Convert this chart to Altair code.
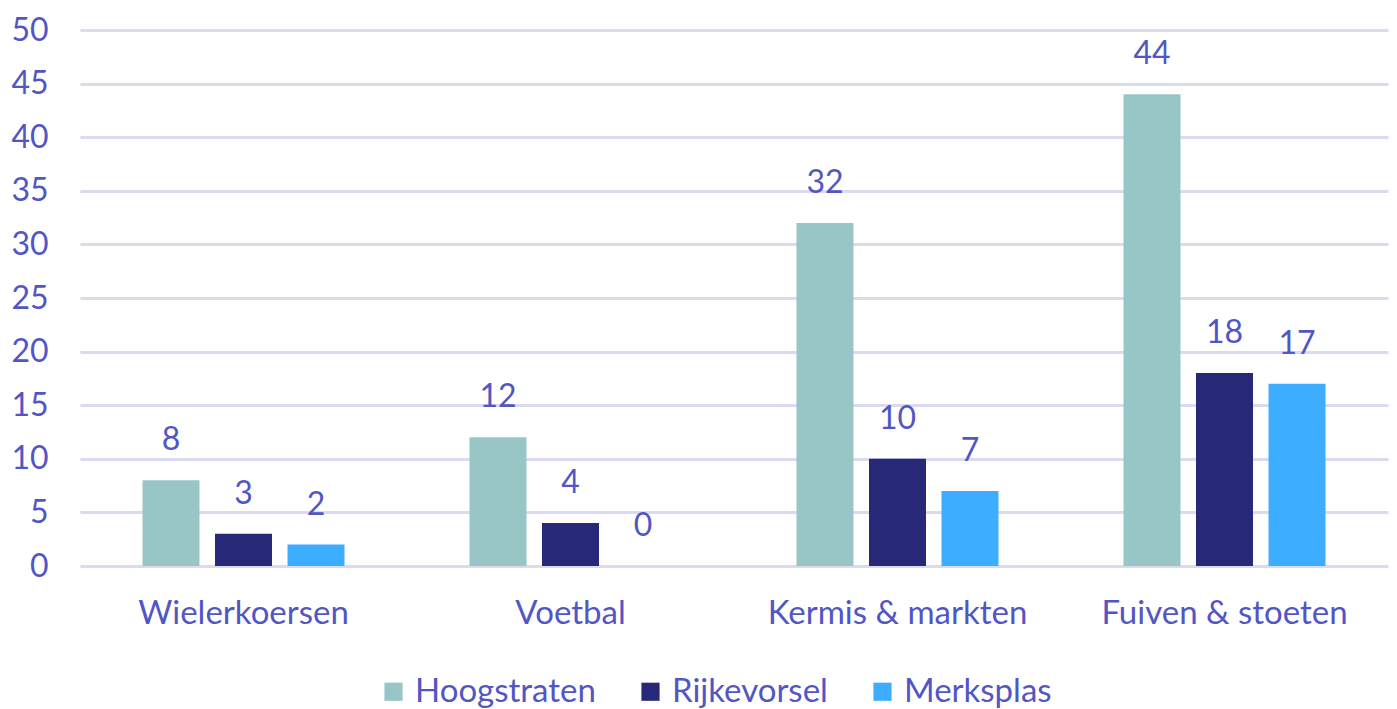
import altair as alt
import pandas as pd

categories = ["Wielerkoersen", "Voetbal", "Kermis & markten", "Fuiven & stoeten"]
series = ["Hoogstraten", "Rijkevorsel", "Merksplas"]
hoogstraten = [8, 12, 32, 44]
rijkevorsel = [3, 4, 10, 18]
merksplas = [2, 0, 7, 17]
colors = ["#98C6C6", "#272978", "#3DAEFF"]

rows = []
for i, c in enumerate(categories):
    for s, vals in zip(series, [hoogstraten, rijkevorsel, merksplas]):
        rows.append({"cat": c, "series": s, "value": vals[i]})
df = pd.DataFrame(rows)

FONT = "Lato"
FS = 32
FSW = 33
TXT = "#5256C4"
GRID = "#DADAF0"

x = alt.X("cat:N", sort=categories, title=None,
          scale=alt.Scale(paddingInner=0, paddingOuter=0),
          axis=alt.Axis(labelAngle=0, labelFont=FONT, labelFontSize=FSW, labelColor=TXT,
                        ticks=False, domain=False, labelPadding=31, labelLimit=0))
xo = alt.XOffset("series:N", sort=series,
                 scale=alt.Scale(paddingInner=0.214, paddingOuter=0.862))
y = alt.Y("value:Q", title=None,
          scale=alt.Scale(domain=[0, 50]),
          axis=alt.Axis(values=list(range(0, 51, 5)), labelFont=FONT, labelFontSize=FS,
                        labelColor=TXT, ticks=False, domain=False, labelPadding=32,
                        gridColor=GRID, gridWidth=3))

bars = alt.Chart(df).mark_bar().encode(
    x=x, xOffset=xo, y=y,
    color=alt.Color("series:N", sort=series, title=None,
                    scale=alt.Scale(domain=series, range=colors),
                    legend=alt.Legend(orient="none", legendX=297, legendY=645,
                                      direction="horizontal", symbolType="square",
                                      symbolSize=330, labelFont=FONT, labelFontSize=FSW,
                                      labelColor=TXT, columnPadding=38, symbolStrokeWidth=0,
                                      labelOffset=5, labelLimit=0)),
)
labels = alt.Chart(df).mark_text(font=FONT, fontSize=FS, color=TXT, baseline="middle", dy=-40).encode(
    x=x, xOffset=xo, y=y, text="value:Q"
)

chart = (bars + labels).properties(
    width=1308, height=536,
    autosize=alt.AutoSizeParams(type="none"),
    padding={"left": 72, "top": 22, "right": 1, "bottom": 160},
).configure_view(stroke=None)

chart.save("out.html", embed_options={"renderer": "svg", "actions": False})
